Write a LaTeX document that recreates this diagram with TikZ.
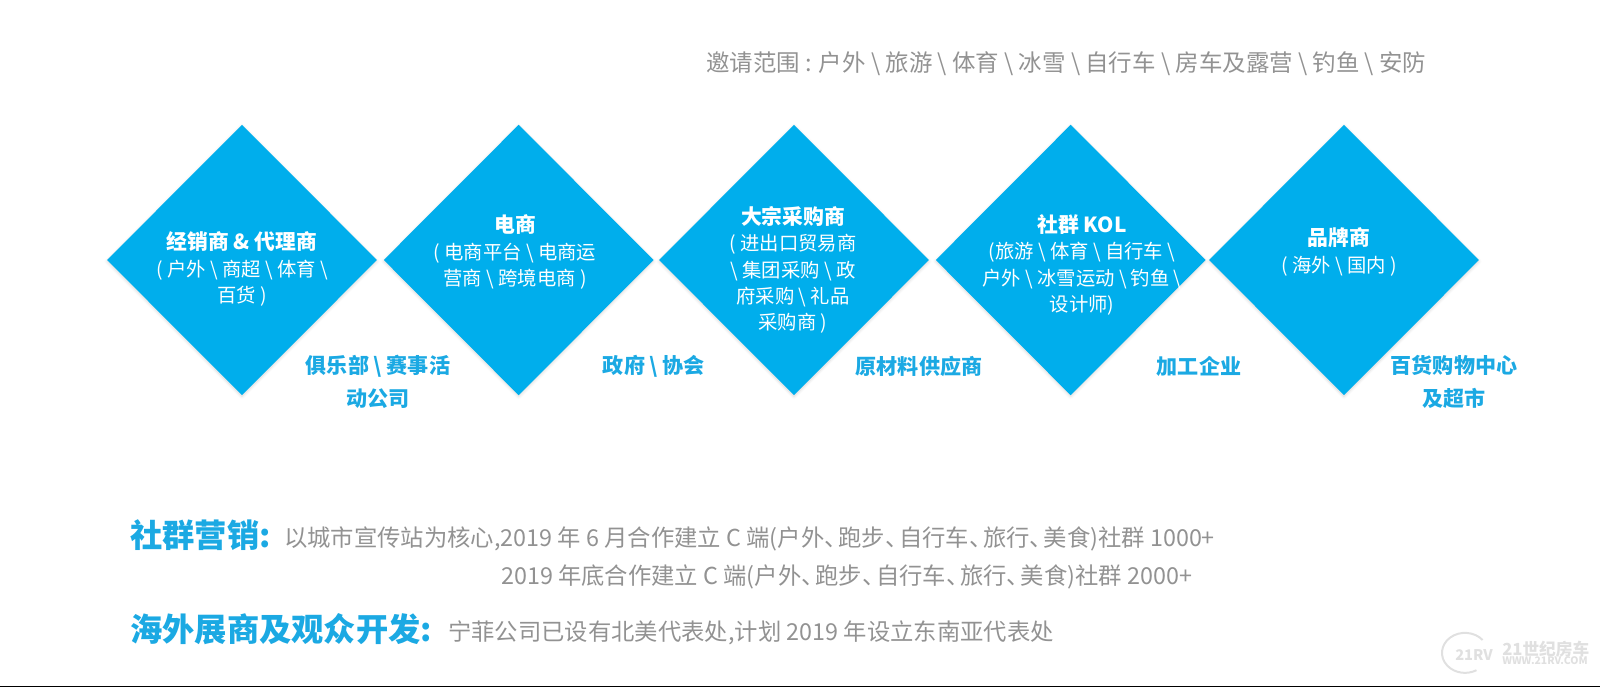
\documentclass[tikz,border=0pt]{standalone}
\usepackage{fontspec}
\setmainfont{Noto Sans CJK SC}
\usepackage{tikz}
\usetikzlibrary{shapes.geometric, positioning, shadows.blur}
\definecolor{diablue}{HTML}{00AEEC}
\definecolor{labelblue}{HTML}{1BA9E3}
\definecolor{textgray}{HTML}{929292}
\newcommand{\bsl}{\textbackslash}
\newcommand{\dun}{\makebox[0.6em][l]{、}}
\tikzset{
	diabox/.style={diamond, aspect=1, fill=diablue, inner sep=0pt, minimum width=202.5pt, minimum height=203pt, blur shadow={shadow blur steps=5, shadow xshift=0pt, shadow yshift=-1pt, shadow opacity=15}},
	diatext/.style={text=white, align=center, font=\fontsize{14.5pt}{19.8pt}\selectfont},
	sidelabel/.style={text=labelblue, align=center, font=\fontsize{15.8pt}{24.5pt}\selectfont\bfseries},
	graytext/.style={text=textgray, anchor=base west, inner sep=0pt, font=\fontsize{17.5pt}{18pt}\selectfont},
	headtext/.style={text=labelblue, anchor=base west, inner sep=0pt, font=\fontsize{24.2pt}{26pt}\selectfont\bfseries},
	marktext/.style={text=black!12, anchor=base west, inner sep=0pt}
}
\newcommand{\diatitle}[1]{{\fontsize{15.6pt}{19.8pt}\selectfont\bfseries #1}}
\begin{document}
\begin{tikzpicture}[x=0.75pt, y=-0.75pt]
	\useasboundingbox (0,0) rectangle (1600,687);
	% top line
	\node[text=textgray, anchor=base west, inner sep=0pt, font=\fontsize{17.6pt}{18pt}\selectfont] (invite) at (706,71) {邀请范围 : 户外 \bsl{} 旅游 \bsl{} 体育 \bsl{} 冰雪 \bsl{} 自行车 \bsl{} 房车及露营 \bsl{} 钓鱼 \bsl{} 安防};
	% diamonds
	\node[diabox] (dealer) at (242,260) {};
	\node[diabox, right=4.6pt of dealer] (ecom) {};
	\node[diabox, right=3.6pt of ecom] (bulk) {};
	\node[diabox, right=4.6pt of bulk] (social) {};
	\node[diabox, right=2.1pt of social] (brand) {};
	% diamond texts
	\node[diatext] (dealertext) at (242,269) {\diatitle{经销商 \& 代理商}\\( 户外 \bsl{} 商超 \bsl{} 体育 \bsl{}\\百货 )};
	\node[diatext] (ecomtext) at (515,252) {\diatitle{电商}\\( 电商平台 \bsl{} 电商运\\营商 \bsl{} 跨境电商 )};
	\node[diatext] (bulktext) at (793,270) {\diatitle{大宗采购商}\\( 进出口贸易商\\\bsl{} 集团采购 \bsl{} 政\\府采购 \bsl{} 礼品\\采购商 )};
	\node[diatext] (socialtext) at (1082,265) {\diatitle{社群 KOL}\\(旅游 \bsl{} 体育 \bsl{} 自行车 \bsl{}\\户外 \bsl{} 冰雪运动 \bsl{} 钓鱼 \bsl{}\\设计师)};
	\node[diatext] (brandtext) at (1339,252) {\diatitle{品牌商}\\( 海外 \bsl{} 国内 )};
	% labels under the gaps
	\node[sidelabel] (club) at (378,382) {俱乐部 \bsl{} 赛事活\\动公司};
	\node[sidelabel] (gov) at (654,366) {政府 \bsl{} 协会};
	\node[sidelabel] (material) at (919,366) {原材料供应商};
	\node[sidelabel] (factory) at (1199,366) {加工企业};
	\node[sidelabel] (mall) at (1454,382) {百货购物中心\\及超市};
	% bottom text
	\node[headtext] (socialhead) at (130,547) {社群营销:};
	\node[graytext] (socialone) at (284,546) {以城市宣传站为核心,2019 年 6 月合作建立 C 端(户外\dun 跑步\dun 自行车\dun 旅行\dun 美食)社群 1000+};
	\node[graytext] (socialtwo) at (501,584) {2019 年底合作建立 C 端(户外\dun 跑步\dun 自行车\dun 旅行\dun 美食)社群 2000+};
	\node[headtext] (overseashead) at (130,641) {海外展商及观众开发:};
	\node[graytext] (overseastext) at (448,640) {宁菲公司已设有北美代表处,计划 2019 年设立东南亚代表处};
	% watermark
	\draw[black!12, line width=1.5pt] (1482.6,640) arc (-40:-300:23 and 20);
	\node[marktext, font=\fontsize{11pt}{11pt}\selectfont\bfseries\itshape] (marklogo) at (1455,660) {21RV};
	\node[marktext, font=\fontsize{12.5pt}{13pt}\selectfont\bfseries] (markname) at (1502,655) {21世纪房车};
	\node[marktext, font=\fontsize{7.8pt}{8pt}\selectfont\bfseries] (markurl) at (1502,664) {WWW.21RV.COM};
	% line at the foot
	\fill[black] (0,685.5) rectangle (1600,687);
\end{tikzpicture}
\end{document}
